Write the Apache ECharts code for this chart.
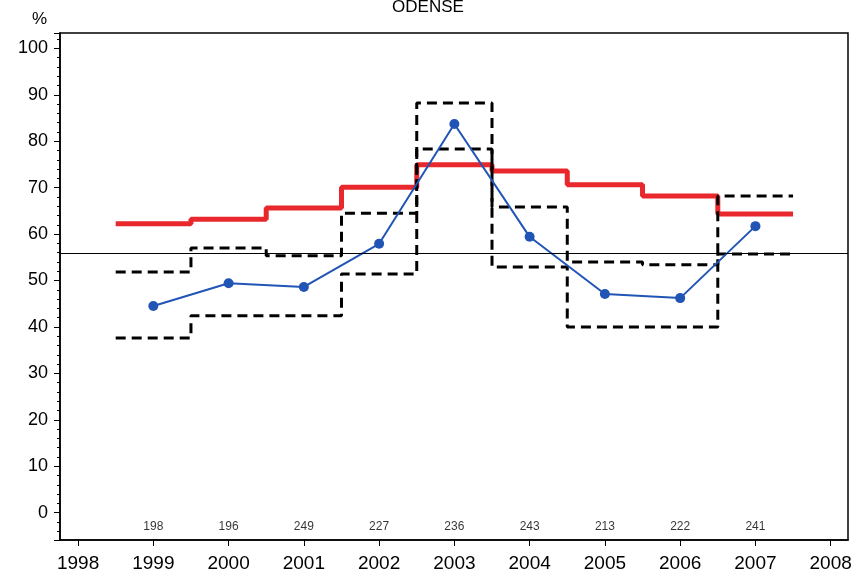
<!DOCTYPE html>
<html>
<head>
<meta charset="utf-8">
<script src="https://cdn.jsdelivr.net/npm/echarts@6/dist/echarts.min.js"></script>
<style>
html, body { margin: 0; padding: 0; background: #fff; }
#main { width: 857px; height: 577px; }
</style>
</head>
<body>
<div id="main"></div>
<script>
var years = [1999, 2000, 2001, 2002, 2003, 2004, 2005, 2006, 2007];
var observed = [44.5, 49.4, 48.6, 57.9, 83.7, 59.4, 47.1, 46.2, 61.7];
var expected = [62.2, 63.2, 65.6, 70.1, 74.9, 73.6, 70.6, 68.2, 64.3];
var upperLimit = [51.8, 57.0, 55.3, 64.5, 88.2, 65.8, 54.0, 53.4, 68.2];
var lowerLimit = [37.6, 42.4, 42.4, 51.4, 78.3, 52.9, 40.0, 40.0, 55.7];
var counts = [198, 196, 249, 227, 236, 243, 213, 222, 241];
var refLevel = 55.9;
var countLevel = -3;

var font = 'Liberation Sans, Arial, Helvetica, sans-serif';

// step data: one horizontal piece per year, from year-0.5 to year+0.5
function steps(vals) {
	var d = years.map(function (y, i) { return [y - 0.5, vals[i]]; });
	d.push([years[years.length - 1] + 0.5, vals[vals.length - 1]]);
	return d;
}

var chartDom = document.getElementById('main');
var myChart = echarts.init(chartDom);
var option;
option = {
	animation: false,
	backgroundColor: '#fff',
	title: {
		text: 'ODENSE',
		left: 423,
		top: -6,
		textAlign: 'center',
		textStyle: { fontFamily: font, fontSize: 17, fontWeight: 'normal', color: '#000' }
	},
	graphic: [
		{
			type: 'text',
			left: 32,
			top: 11,
			style: { text: '%', font: '17px ' + font, fill: '#000' }
		}
	],
	grid: {
		left: 60,
		top: 33,
		right: 9,
		bottom: 37,
		show: true,
		borderColor: '#000',
		borderWidth: 1.5
	},
	xAxis: {
		type: 'value',
		min: 1997.76,
		max: 2008.23,
		splitNumber: 10,
		splitLine: { show: false },
		axisLine: { onZero: false, lineStyle: { color: '#000', width: 1.5 } },
		axisTick: { show: true, length: 6, lineStyle: { color: '#000' } },
		axisLabel: {
			showMinLabel: false,
			showMaxLabel: false,
			margin: 14,
			color: '#000',
			fontFamily: font,
			fontSize: 19,
			formatter: function (v) { return String(v); }
		}
	},
	yAxis: {
		type: 'value',
		min: -5.9,
		max: 103.3,
		splitNumber: 11,
		splitLine: { show: false },
		axisLine: { show: true, onZero: false, lineStyle: { color: '#000', width: 1.5 } },
		axisTick: { show: true, length: 6, lineStyle: { color: '#000' } },
		minorTick: { show: true, splitNumber: 5, length: 3, lineStyle: { color: '#000' } },
		axisLabel: {
			showMinLabel: false,
			showMaxLabel: false,
			margin: 12,
			color: '#000',
			fontFamily: font,
			fontSize: 18
		}
	},
	series: [
		{
			name: 'expected',
			type: 'line',
			step: 'end',
			data: steps(expected),
			symbol: 'none',
			lineStyle: { color: '#e8282c', width: 5 },
			z: 2,
			markLine: {
				silent: true,
				symbol: 'none',
				label: { show: false },
				lineStyle: { color: '#000', width: 1, type: 'solid' },
				data: [{ yAxis: refLevel }]
			}
		},
		{
			name: 'upper',
			type: 'line',
			step: 'end',
			data: steps(upperLimit),
			symbol: 'none',
			lineStyle: { color: '#000', width: 3, type: [10, 6] },
			z: 3
		},
		{
			name: 'lower',
			type: 'line',
			step: 'end',
			data: steps(lowerLimit),
			symbol: 'none',
			lineStyle: { color: '#000', width: 3, type: [10, 6] },
			z: 3
		},
		{
			name: 'observed',
			type: 'line',
			data: years.map(function (y, i) { return [y, observed[i]]; }),
			symbol: 'circle',
			symbolSize: 10,
			itemStyle: { color: '#2155b5' },
			lineStyle: { color: '#2155b5', width: 2 },
			z: 4
		},
		{
			name: 'n',
			type: 'scatter',
			data: years.map(function (y, i) { return [y, countLevel, counts[i]]; }),
			symbolSize: 0,
			label: {
				show: true,
				position: 'inside',
				formatter: function (p) { return p.value[2]; },
				color: '#000',
				fontFamily: font,
				fontSize: 12
			},
			z: 5
		}
	]
};

option && myChart.setOption(option);
</script>
</body>
</html>
